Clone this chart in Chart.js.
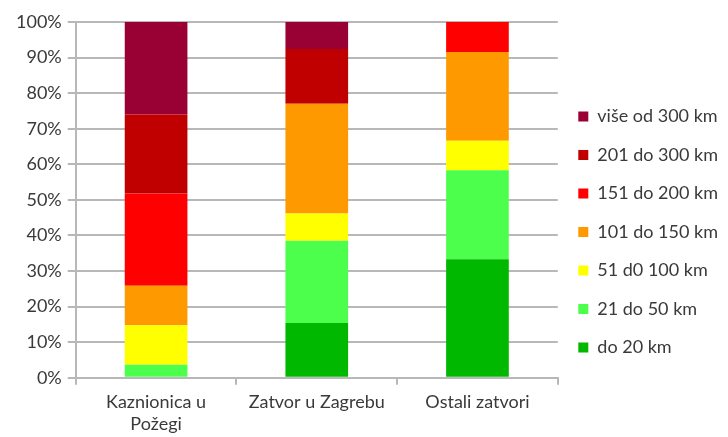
<!DOCTYPE html>
<html>
<head>
<meta charset="utf-8">
<script src="https://cdn.jsdelivr.net/npm/chart.js@4"></script>
<style>
  html, body { margin: 0; padding: 0; background: #fff; }
  #wrap { width: 728px; height: 437px; }
</style>
</head>
<body>
<div id="wrap"><canvas id="distChart"></canvas></div>
<script>
const CATEGORIES = [["Kaznionica u", "Požegi"], "Zatvor u Zagrebu", "Ostali zatvori"];
const SERIES_NAMES = ["do 20 km", "21 do 50 km", "51 d0 100 km", "101 do 150 km", "151 do 200 km", "201 do 300 km", "više od 300 km"];
const SERIES_COLORS = ["#00b800", "#4dff4d", "#ffff00", "#ff9900", "#ff0000", "#c00000", "#990033"];

// percentage of each category, bottom segment first
const DO_20 = [0, 15.4, 33.3];
const OD_21_DO_50 = [3.7, 23.1, 25.0];
const OD_51_DO_100 = [11.1, 7.7, 8.3];
const OD_101_DO_150 = [11.1, 30.8, 25.0];
const OD_151_DO_200 = [25.9, 0, 8.4];
const OD_201_DO_300 = [22.2, 15.4, 0];
const VISE_OD_300 = [26.0, 7.6, 0];

const Y_TICKS = [0, 10, 20, 30, 40, 50, 60, 70, 80, 90, 100];

const SERIES_DATA = [DO_20, OD_21_DO_50, OD_51_DO_100, OD_101_DO_150, OD_151_DO_200, OD_201_DO_300, VISE_OD_300];

const FONT = "Lato, 'Open Sans', sans-serif";
const TEXT = "#3a3a3a";

new Chart(document.getElementById("distChart"), {
  type: "bar",
  data: {
    labels: CATEGORIES,
    datasets: SERIES_DATA.map((data, i) => ({
      label: SERIES_NAMES[i],
      data,
      backgroundColor: SERIES_COLORS[i],
      borderWidth: 0,
      barPercentage: 0.39,
      categoryPercentage: 1,
    })),
  },
  options: {
    responsive: true,
    maintainAspectRatio: false,
    animation: false,
    layout: { padding: { top: 22, left: 10, right: 0, bottom: -5 } },
    plugins: {
      tooltip: { enabled: false },
      legend: {
        position: "right",
        reverse: true,
        labels: {
          boxWidth: 10,
          boxHeight: 10,
          padding: 20.5,
          color: TEXT,
          font: { family: FONT, size: 18 },
        },
      },
    },
    scales: {
      x: {
        stacked: true,
        grid: { display: true, drawOnChartArea: false, offset: true, color: "#b8b8b8", lineWidth: 2, tickLength: 7 },
        border: { color: "#b8b8b8", width: 2 },
        ticks: { color: TEXT, font: { family: FONT, size: 18 }, maxRotation: 0, padding: 7 },
      },
      y: {
        stacked: true,
        min: 0,
        max: 100,
        afterBuildTicks: (axis) => { axis.ticks = Y_TICKS.map((v) => ({ value: v })); },
        grid: { color: "#b8b8b8", lineWidth: 2, tickLength: 8 },
        border: { color: "#b8b8b8", width: 2 },
        ticks: { color: TEXT, font: { family: FONT, size: 18 }, padding: 6, callback: (v) => v + "%" },
      },
    },
  },
});
</script>
</body>
</html>
